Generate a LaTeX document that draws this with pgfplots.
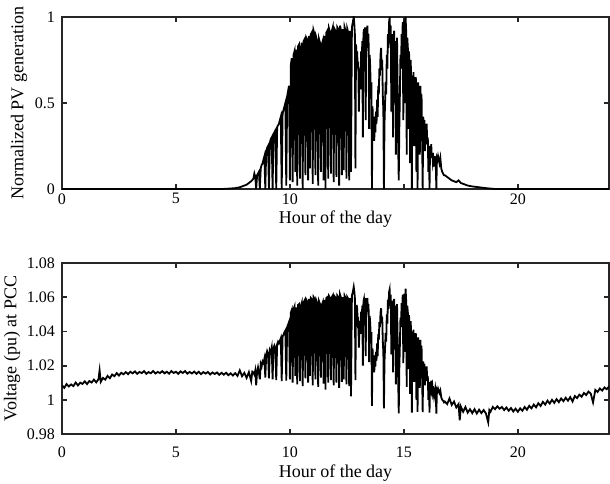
\documentclass[border=0pt]{standalone}
\usepackage{fontspec}
\setmainfont{Liberation Serif}
\usepackage{pgfplots}
\pgfplotsset{compat=1.18}
\definecolor{axgray}{rgb}{0.15,0.15,0.15}

\pgfplotstableread{
h pv
0.00 0
7.00 0
7.30 0.002
7.60 0.005
7.80 0.010
8.00 0.020
8.10 0.025
8.20 0.035
8.30 0.045
8.40 0.06
8.44 0.09
8.48 0.07
8.52 0.00
8.56 0.08
8.60 0.09
8.64 0.10
8.68 0.00
8.72 0.12
8.76 0.14
8.80 0.15
8.84 0.17
8.88 0.19
8.92 0.00
8.96 0.22
9.00 0.24
9.04 0.25
9.08 0.00
9.12 0.27
9.16 0.29
9.20 0.30
9.24 0.00
9.28 0.32
9.32 0.33
9.36 0.34
9.40 0.00
9.44 0.36
9.48 0.37
9.52 0.38
9.56 0.40
9.60 0.42
9.64 0.00
9.68 0.44
9.72 0.46
9.76 0.48
9.80 0.50
9.84 0.02
9.88 0.54
9.92 0.57
9.96 0.60
10.00 0.05
10.04 0.72
10.08 0.76
10.12 0.04
10.16 0.78
10.20 0.80
10.24 0.10
10.28 0.81
10.32 0.02
10.36 0.83
10.40 0.84
10.44 0.06
10.48 0.82
10.52 0.85
10.56 0.00
10.60 0.86
10.64 0.87
10.68 0.08
10.72 0.88
10.76 0.87
10.80 0.05
10.84 0.89
10.88 0.12
10.92 0.90
10.96 0.91
11.00 0.03
11.04 0.92
11.08 0.90
11.12 0.08
11.16 0.88
11.20 0.86
11.24 0.02
11.28 0.87
11.32 0.85
11.36 0.10
11.40 0.84
11.44 0.86
11.48 0.05
11.52 0.89
11.56 0.00
11.60 0.91
11.64 0.92
11.68 0.06
11.72 0.93
11.76 0.91
11.80 0.09
11.84 0.92
11.88 0.94
11.92 0.04
11.96 0.93
12.00 0.92
12.04 0.07
12.08 0.94
12.12 0.93
12.16 0.02
12.20 0.95
12.24 0.92
12.28 0.08
12.32 0.93
12.36 0.11
12.40 0.94
12.44 0.92
12.48 0.06
12.52 0.93
12.56 0.91
12.60 0.05
12.64 0.92
12.68 0.10
12.72 0.94
12.76 0.97
12.800 1.00
12.825 0.96
12.850 0.90
12.875 0.12
12.900 0.84
12.925 0.78
12.950 0.80
12.975 0.70
13.000 0.74
13.025 0.45
13.050 0.62
13.075 0.70
13.100 0.58
13.125 0.80
13.150 0.72
13.175 0.86
13.200 0.30
13.225 0.90
13.250 0.93
13.275 0.85
13.300 0.94
13.325 0.40
13.350 0.92
13.375 0.88
13.400 0.95
13.425 0.82
13.450 0.90
13.475 0.35
13.500 0.78
13.525 0.70
13.550 0.55
13.575 0.62
13.600 0.00
13.625 0.48
13.650 0.35
13.675 0.42
13.700 0.28
13.725 0.40
13.750 0.33
13.775 0.45
13.800 0.38
13.825 0.52
13.850 0.42
13.875 0.60
13.900 0.55
13.925 0.70
13.950 0.66
13.975 0.78
14.000 0.82
14.025 0.70
14.050 0.75
14.075 0.55
14.100 0.45
14.125 0.00
14.150 0.38
14.175 0.50
14.200 0.62
14.225 0.55
14.250 0.78
14.275 0.70
14.300 0.90
14.325 0.82
14.350 0.97
14.375 1.00
14.400 0.88
14.425 0.95
14.450 0.45
14.475 0.90
14.500 0.82
14.525 0.30
14.550 0.88
14.575 0.92
14.600 0.50
14.625 0.86
14.650 0.20
14.675 0.80
14.700 0.88
14.725 0.60
14.750 0.25
14.775 0.05
14.800 0.35
14.825 0.55
14.850 0.78
14.875 0.70
14.900 0.90
14.925 0.85
14.950 0.97
14.975 0.40
15.000 0.95
15.025 0.98
15.050 0.50
15.075 1.00
15.100 0.92
15.125 0.20
15.150 0.88
15.175 0.82
15.200 0.35
15.225 0.80
15.250 0.70
15.275 0.15
15.300 0.75
15.325 0.60
15.350 0.00
15.375 0.66
15.400 0.55
15.425 0.68
15.450 0.25
15.475 0.62
15.500 0.52
15.525 0.65
15.550 0.10
15.575 0.60
15.600 0.00
15.625 0.62
15.650 0.50
15.675 0.58
15.700 0.20
15.725 0.60
15.750 0.48
15.775 0.55
15.800 0.30
15.825 0.00
15.850 0.42
15.875 0.36
15.900 0.40
15.925 0.22
15.950 0.35
15.975 0.30
16.000 0.38
16.025 0.26
16.050 0.30
16.075 0.10
16.100 0.25
16.125 0.00
16.150 0.24
16.175 0.20
16.200 0.26
16.225 0.18
16.250 0.21
16.275 0.15
16.300 0.17
16.325 0.13
16.350 0.16
16.375 0.19
16.400 0.14
16.425 0.00
16.450 0.18
16.475 0.17
16.500 0.19
16.56 0.15
16.60 0.18
16.64 0.12
16.68 0.10
16.72 0.09
16.76 0.08
16.80 0.08
16.90 0.07
17.00 0.06
17.10 0.05
17.20 0.045
17.30 0.04
17.40 0.05
17.50 0.035
17.60 0.03
17.80 0.02
18.00 0.015
18.30 0.01
18.60 0.005
19.00 0
24.00 0
}\pvdata

\pgfplotstableread{
h v
0.0 1.0085
0.1 1.0070
0.2 1.0092
0.3 1.0078
0.4 1.0090
0.5 1.0080
0.6 1.0101
0.7 1.0084
0.8 1.0100
0.9 1.0093
1.0 1.0108
1.1 1.0092
1.2 1.0110
1.3 1.0101
1.4 1.0118
1.5 1.0102
1.6 1.0120
1.65 1.0172
1.7 1.0105
1.8 1.0128
1.9 1.0118
2.0 1.0140
2.1 1.0126
2.2 1.0148
2.3 1.0138
2.4 1.0156
2.5 1.0142
2.6 1.0158
2.7 1.0149
2.8 1.0162
2.9 1.0150
3.0 1.0164
3.1 1.0155
3.2 1.0166
3.3 1.0152
3.4 1.0163
3.5 1.0156
3.6 1.0168
3.7 1.0152
3.8 1.0162
3.9 1.0155
4.0 1.0168
4.1 1.0154
4.2 1.0163
4.3 1.0156
4.4 1.0168
4.5 1.0155
4.6 1.0164
4.7 1.0153
4.8 1.0168
4.9 1.0157
5.0 1.0164
5.1 1.0152
5.2 1.0166
5.3 1.0157
5.4 1.0168
5.5 1.0153
5.6 1.0163
5.7 1.0154
5.8 1.0165
5.9 1.0152
6.0 1.0164
6.1 1.0150
6.2 1.0162
6.3 1.0153
6.4 1.0163
6.5 1.0148
6.6 1.0160
6.7 1.0151
6.8 1.0160
6.9 1.0146
7.0 1.0158
7.1 1.0147
7.2 1.0158
7.3 1.0144
7.4 1.0155
7.5 1.0142
7.6 1.0156
7.7 1.0140
7.8 1.0172
7.9 1.0138
8.0 1.0158
8.1 1.0128
8.2 1.0162
8.3 1.0110
8.35 1.0165
8.40 1.0160
8.44 1.0148
8.48 1.0172
8.52 1.0085
8.56 1.0165
8.60 1.0190
8.64 1.0158
8.68 1.0120
8.72 1.0210
8.76 1.0195
8.80 1.0225
8.84 1.0215
8.88 1.0240
8.92 1.0130
8.96 1.0262
9.00 1.0285
9.04 1.0270
9.08 1.0125
9.12 1.0290
9.16 1.0278
9.20 1.0305
9.24 1.0120
9.28 1.0300
9.32 1.0318
9.36 1.0305
9.40 1.0115
9.44 1.0325
9.48 1.0340
9.52 1.0330
9.56 1.0345
9.60 1.0360
9.64 1.0110
9.68 1.0372
9.72 1.0380
9.76 1.0395
9.80 1.0405
9.84 1.0112
9.88 1.0425
9.92 1.0440
9.96 1.0455
10.00 1.0120
10.04 1.0510
10.08 1.0525
10.12 1.0100
10.16 1.0530
10.20 1.0545
10.24 1.0140
10.28 1.0540
10.32 1.0090
10.36 1.0555
10.40 1.0560
10.44 1.0110
10.48 1.0550
10.52 1.0568
10.56 1.0080
10.60 1.0570
10.64 1.0580
10.68 1.0125
10.72 1.0585
10.76 1.0575
10.80 1.0100
10.84 1.0590
10.88 1.0140
10.92 1.0595
10.96 1.0588
11.00 1.0085
11.04 1.0600
11.08 1.0590
11.12 1.0120
11.16 1.0580
11.20 1.0565
11.24 1.0075
11.28 1.0575
11.32 1.0560
11.36 1.0130
11.40 1.0555
11.44 1.0570
11.48 1.0095
11.52 1.0585
11.56 1.0060
11.60 1.0595
11.64 1.0600
11.68 1.0100
11.72 1.0605
11.76 1.0595
11.80 1.0115
11.84 1.0600
11.88 1.0610
11.92 1.0085
11.96 1.0605
12.00 1.0598
12.04 1.0100
12.08 1.0610
12.12 1.0602
12.16 1.0070
12.20 1.0615
12.24 1.0598
12.28 1.0105
12.32 1.0600
12.36 1.0120
12.40 1.0608
12.44 1.0595
12.48 1.0090
12.52 1.0600
12.56 1.0590
12.60 1.0080
12.64 1.0595
12.68 1.0020
12.72 1.0610
12.76 1.0630
12.800 1.0660
12.825 1.0635
12.850 1.0595
12.875 1.0115
12.900 1.0555
12.925 1.0520
12.950 1.0530
12.975 1.0465
13.000 1.0484
13.025 1.0305
13.050 1.0410
13.075 1.0460
13.100 1.0385
13.125 1.0515
13.150 1.0465
13.175 1.0550
13.200 1.0200
13.225 1.0575
13.250 1.0590
13.275 1.0540
13.300 1.0595
13.325 1.0255
13.350 1.0580
13.375 1.0555
13.400 1.0595
13.425 1.0515
13.450 1.0560
13.475 1.0220
13.500 1.0490
13.525 1.0445
13.550 1.0350
13.575 1.0395
13.600 0.9965
13.625 1.0300
13.650 1.0210
13.675 1.0260
13.700 1.0160
13.725 1.0245
13.750 1.0195
13.775 1.0280
13.800 1.0230
13.825 1.0330
13.850 1.0255
13.875 1.0385
13.900 1.0350
13.925 1.0455
13.950 1.0425
13.975 1.0510
14.000 1.0535
14.025 1.0450
14.050 1.0485
14.075 1.0345
14.100 1.0275
14.125 0.9950
14.150 1.0225
14.175 1.0305
14.200 1.0390
14.225 1.0340
14.250 1.0500
14.275 1.0445
14.300 1.0585
14.325 1.0530
14.350 1.0630
14.375 1.0645
14.400 1.0565
14.425 1.0615
14.450 1.0265
14.475 1.0580
14.500 1.0525
14.525 1.0160
14.550 1.0565
14.575 1.0590
14.600 1.0295
14.625 1.0550
14.650 1.0090
14.675 1.0505
14.700 1.0560
14.725 1.0365
14.750 1.0120
14.775 0.9920
14.800 1.0180
14.825 1.0320
14.850 1.0480
14.875 1.0425
14.900 1.0565
14.925 1.0530
14.950 1.0615
14.975 1.0215
15.000 1.0595
15.025 1.0620
15.050 1.0280
15.075 1.0650
15.100 1.0580
15.125 1.0075
15.150 1.0550
15.175 1.0510
15.200 1.0180
15.225 1.0495
15.250 1.0425
15.275 1.0035
15.300 1.0460
15.325 1.0355
15.350 0.9925
15.375 1.0400
15.400 1.0320
15.425 1.0410
15.450 1.0105
15.475 1.0370
15.500 1.0300
15.525 1.0390
15.550 1.0000
15.575 1.0350
15.600 0.9930
15.625 1.0365
15.650 1.0280
15.675 1.0340
15.700 1.0070
15.725 1.0350
15.750 1.0265
15.775 1.0315
15.800 1.0140
15.825 0.9928
15.850 1.0225
15.875 1.0180
15.900 1.0210
15.925 1.0085
15.950 1.0175
15.975 1.0140
16.000 1.0195
16.025 1.0110
16.050 1.0140
16.075 1.0000
16.100 1.0105
16.125 0.9925
16.150 1.0100
16.175 1.0070
16.200 1.0112
16.225 1.0058
16.250 1.0078
16.275 1.0035
16.300 1.0050
16.325 1.0020
16.350 1.0042
16.375 1.0065
16.400 1.0028
16.425 0.9920
16.450 1.0058
16.475 1.0050
16.500 1.0065
16.56 1.0040
16.60 1.0055
16.64 1.0015
16.68 1.0000
16.72 0.9995
16.76 0.9985
16.80 0.9990
16.90 0.9975
17.00 1.0008
17.10 0.9970
17.20 0.9990
17.30 0.9955
17.40 0.9975
17.45 0.9880
17.50 0.9960
17.60 0.9930
17.70 0.9958
17.80 0.9925
17.90 0.9945
18.00 0.9922
18.10 0.9945
18.20 0.9920
18.30 0.9942
18.40 0.9922
18.50 0.9940
18.60 0.9920
18.70 0.9868
18.75 0.9940
18.80 0.9930
18.90 0.9958
19.00 0.9945
19.10 0.9962
19.20 0.9948
19.30 0.9958
19.40 0.9940
19.50 0.9955
19.60 0.9936
19.70 0.9952
19.80 0.9932
19.90 0.9948
20.00 0.9930
20.10 0.9950
20.20 0.9936
20.30 0.9958
20.40 0.9942
20.50 0.9965
20.60 0.9950
20.70 0.9972
20.80 0.9956
20.90 0.9980
21.00 0.9964
21.10 0.9988
21.20 0.9972
21.30 0.9995
21.40 0.9978
21.50 1.0000
21.60 0.9982
21.70 1.0004
21.80 0.9986
21.90 1.0008
22.00 0.9992
22.10 1.0012
22.20 0.9995
22.30 1.0016
22.40 0.9990
22.50 1.0022
22.60 1.0010
22.70 1.0030
22.80 1.0018
22.90 1.0040
23.00 1.0028
23.10 1.0048
23.20 1.0036
23.30 0.9985
23.40 1.0058
23.50 1.0046
23.60 1.0066
23.70 1.0054
23.80 1.0072
23.90 1.0062
24.00 1.0078
}\vdata

\begin{document}
\begin{tikzpicture}
\pgfplotsset{
  every axis/.append style={
    scale only axis,
    width=273.5pt,
    xmin=0, xmax=24,
    xtick={0,5,10,15,20},
    axis line style={axgray, line width=0.9pt},
    tick style={axgray, line width=0.9pt},
    major tick length=2.5pt,
    tick align=inside,
    font=\fontsize{8}{9}\selectfont,
    /pgf/number format/assume math mode=true,
    label style={font=\fontsize{9}{10}\selectfont},
  },
}
% PV generation
\begin{axis}[
  at={(0,122.5pt)},
  height=86pt,
  ymin=0, ymax=1,
  ytick={0,0.5,1},
  yticklabels={0,0.5,1},
  xticklabels={0,5,10,,20},
  xticklabel style={inner sep=1pt, yshift=-1pt},
  xlabel={Hour of the day},
  xlabel style={at={(axis description cs:0.5,0)}, anchor=center, inner sep=0.5pt, yshift=-15pt},
  ylabel={Normalized PV generation},
  ylabel style={at={(axis description cs:-0.0786,0.5)}, anchor=center},
]
\addplot[black, line width=0.9pt] table[x=h, y=pv] {\pvdata};
\end{axis}
% voltage at PCC
\begin{axis}[
  at={(0,0)},
  height=85.5pt,
  ymin=0.98, ymax=1.08,
  ytick={0.98,1,1.02,1.04,1.06,1.08},
  yticklabels={0.98,1,1.02,1.04,1.06,1.08},
  xticklabels={0,5,10,15,20},
  xticklabel shift=3pt,
  xlabel={Hour of the day},
  xlabel style={at={(axis description cs:0.5,0)}, anchor=center, yshift=-19.5pt},
  ylabel={Voltage (pu) at PCC},
  ylabel style={at={(axis description cs:-0.0914,0.5)}, anchor=center},
]
\addplot[black, line width=0.9pt] table[x=h, y=v] {\vdata};
\end{axis}
\pgfresetboundingbox
\path[use as bounding box] (-31pt,-24.5pt) rectangle (274pt,217pt);
\end{tikzpicture}
\end{document}
